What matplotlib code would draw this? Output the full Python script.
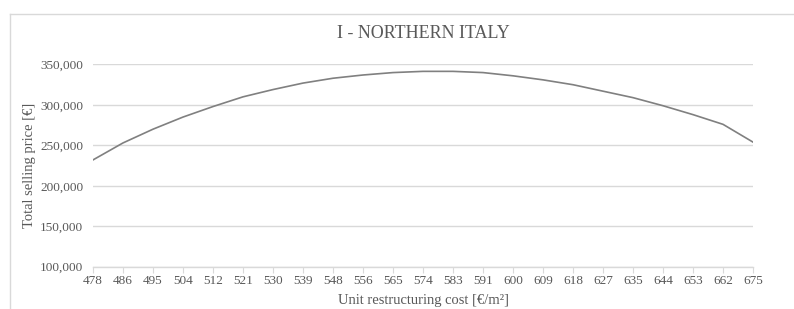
import matplotlib.pyplot as plt
from matplotlib.lines import Line2D
from matplotlib.ticker import FuncFormatter
import numpy as np

# Data
unit_cost = [478, 486, 495, 504, 512, 521, 530, 539, 548, 556, 565, 574,
             583, 591, 600, 609, 618, 627, 635, 644, 653, 662, 675]
selling_price = [232000, 253000, 270000, 285000, 298000, 310000, 319000,
                 327000, 333000, 337000, 340000, 341500, 341500, 340000,
                 336000, 331000, 325000, 317000, 309000, 299000, 288000,
                 276000, 254000]

plt.rcParams['font.family'] = ['Liberation Serif', 'DejaVu Serif']
text_color = '#595959'
grid_color = '#d9d9d9'

fig = plt.figure(figsize=(7.94, 3.09), dpi=100)
ax = fig.add_axes([0.1171, 0.1369, 0.9484 - 0.1171, 0.7913 - 0.1369])

x = np.arange(len(unit_cost))
ax.plot(x, selling_price, color='#808080', lw=1.2)

ax.set_xlim(0, len(unit_cost) - 1)
ax.set_ylim(100000, 350000)
ax.set_yticks(np.arange(100000, 350001, 50000))
ax.yaxis.set_major_formatter(FuncFormatter(lambda v, p: f'{int(v):,}'))
ax.set_xticks(x)
ax.set_xticklabels([str(c) for c in unit_cost])

ax.yaxis.grid(True, color=grid_color, lw=1)
ax.set_axisbelow(True)
for s in ['left', 'right', 'top']:
    ax.spines[s].set_visible(False)
ax.spines['bottom'].set_color(grid_color)
ax.spines['bottom'].set_linewidth(1)
ax.tick_params(axis='y', length=0, pad=7, labelsize=9.5, labelcolor=text_color)
ax.tick_params(axis='x', length=4, color=grid_color, pad=2, labelsize=9.5,
               labelcolor=text_color)

ax.set_title('I - NORTHERN ITALY', color=text_color, fontsize=13, pad=19)
ax.set_ylabel('Total selling price [€]', color=text_color, fontsize=10.5, labelpad=3)
ax.set_xlabel('Unit restructuring cost [€/m²]', color=text_color, fontsize=10.5,
              labelpad=5)

# chart area border (cut off on the right and bottom in the reference)
fig.add_artist(Line2D([10 / 794, 1.0], [1 - 14 / 309] * 2, color='#d9d9d9', lw=1))
fig.add_artist(Line2D([10 / 794] * 2, [0.0, 1 - 14 / 309], color='#d9d9d9', lw=1))

plt.savefig('out.png', dpi=100)
